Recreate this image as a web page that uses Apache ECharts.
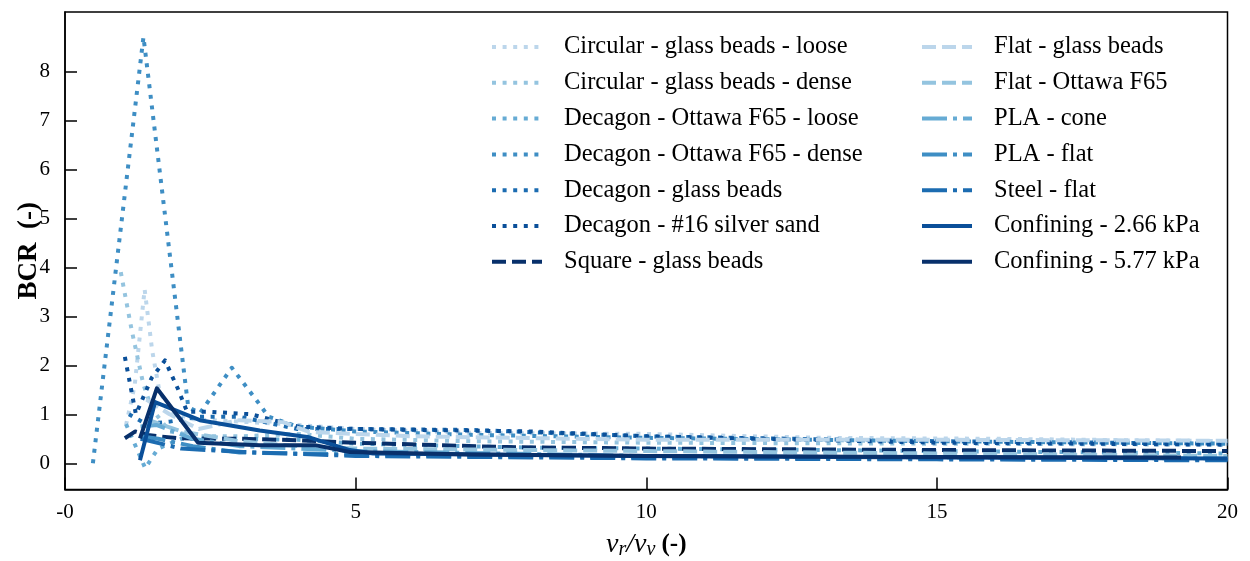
<!DOCTYPE html>
<html>
<head>
<meta charset="utf-8">
<script src="https://cdn.jsdelivr.net/npm/echarts@6/dist/echarts.min.js"></script>
<style>html,body{margin:0;padding:0;background:#fff}#c{width:1250px;height:561px}</style>
</head>
<body>
<div id="c"></div>
<script>
// ---- data (x = vr/vv, y = BCR) ----
const circularLoose = [[1.05,0.78],[1.2,1.6],[1.37,3.55],[1.5,2.3],[1.62,1.5],[1.8,1.05],[2.2,0.9],[3.0,0.85],[3.8,0.8],[5,0.7],[7,0.62],[10,0.6],[13,0.52],[16,0.5],[20,0.45]];
const circularDense = [[0.96,3.9],[1.15,2.7],[1.35,1.6],[1.5,1.1],[1.8,0.65],[2.3,0.55],[3,0.55],[4,0.6],[5,0.5],[7,0.45],[10,0.42],[15,0.4],[20,0.38]];
const decagonOttawaLoose = [[1.05,0.8],[1.38,-0.1],[1.6,0.3],[2.0,0.5],[3,0.5],[4,0.48],[5,0.4],[8,0.32],[10,0.3],[15,0.25],[20,0.2]];
const decagonOttawaDense = [[0.48,0.0],[1.35,8.7],[2.12,1.15],[2.32,1.02],[2.87,1.95],[3.35,1.2],[3.5,0.95],[4,0.75],[5,0.65],[7,0.58],[10,0.52],[15,0.45],[20,0.4]];
const decagonGlass = [[1.1,1.0],[1.4,0.8],[1.8,0.85],[2.3,0.95],[3,0.95],[4,0.7],[5,0.7],[7,0.68],[10,0.55],[15,0.45],[20,0.4]];
const decagonSilver = [[1.03,2.17],[1.22,1.0],[1.49,1.74],[1.72,2.1],[1.95,1.5],[2.1,1.05],[2.5,1.05],[3.2,1.0],[4,0.75],[5,0.7],[8,0.65],[10,0.55],[15,0.42],[20,0.38]];
const squareGlass = [[1.03,0.51],[1.21,0.65],[1.46,0.57],[1.95,0.51],[3,0.5],[4,0.47],[5,0.42],[7.6,0.33],[10,0.3],[15,0.27],[20,0.25]];
const flatGlass = [[1.4,1.3],[1.8,1.0],[2.3,0.7],[3.0,0.88],[3.75,0.84],[4.2,0.64],[6,0.55],[10,0.48],[15,0.48],[20,0.46]];
const flatOttawa = [[1.4,0.9],[2.0,0.65],[3,0.45],[4,0.35],[5,0.3],[10,0.25],[15,0.2],[20,0.15]];
const plaCone = [[1.3,0.75],[1.58,0.78],[2.2,0.5],[3,0.35],[5,0.25],[10,0.15],[15,0.12],[20,0.1]];
const plaFlat = [[1.3,0.55],[1.6,0.5],[2.2,0.35],[3,0.22],[5,0.18],[10,0.12],[15,0.1],[20,0.08]];
const steelFlat = [[1.3,0.5],[2,0.3],[3.07,0.23],[5,0.15],[10,0.1],[15,0.08],[20,0.06]];
const confining266 = [[1.29,0.06],[1.55,1.25],[2.32,0.88],[3.35,0.67],[4.2,0.53],[4.9,0.27],[5.3,0.2],[10,0.15],[15,0.12],[20,0.1]];
const confining577 = [[1.29,0.51],[1.58,1.53],[2.29,0.42],[3.35,0.37],[4.3,0.37],[4.9,0.23],[7,0.18],[10,0.15],[15,0.13],[19.2,0.12]];

const seriesNames = ['Circular - glass beads - loose','Circular - glass beads - dense','Decagon - Ottawa F65 - loose','Decagon - Ottawa F65 - dense','Decagon - glass beads','Decagon - #16 silver sand','Square - glass beads','Flat - glass beads','Flat - Ottawa F65','PLA - cone','PLA - flat','Steel - flat','Confining - 2.66 kPa','Confining - 5.77 kPa'];
const seriesData = [circularLoose,circularDense,decagonOttawaLoose,decagonOttawaDense,decagonGlass,decagonSilver,squareGlass,flatGlass,flatOttawa,plaCone,plaFlat,steelFlat,confining266,confining577];
const seriesKinds = ['dot','dot','dot','dot','dot','dot','dash','dash','dash','dashdot','dashdot','dashdot','solid','solid'];
const xTicks = [0,5,10,15,20];
const yTicks = [0,1,2,3,4,5,6,7,8];

const blues = ['#bcd6eb','#94c4df','#66abd4','#3e8ec4','#1c6cb1','#0a4f99','#08306b'];
const colors = [blues[0],blues[1],blues[2],blues[3],blues[4],blues[5],blues[6],blues[0],blues[1],blues[2],blues[3],blues[4],blues[5],blues[6]];
const dashes = {dot:[4,6.6], dash:[14,6], dashdot:[25,6,4,6], solid:'solid'};
const widths = {dot:4, dash:4, dashdot:4, solid:4};

const FONT = 'Liberation Serif';
const chart = echarts.init(document.getElementById('c'), null, {renderer:'canvas'});

const series = seriesNames.map((n,i)=>({
  name:n, type:'line', data:seriesData[i], symbol:'none', showSymbol:false,
  lineStyle:{color:colors[i], width:widths[seriesKinds[i]], type:dashes[seriesKinds[i]], cap:'butt', join:'round'},
  itemStyle:{color:colors[i]},
  emphasis:{disabled:true}, animation:false, z:2+i
}));

function legendCfg(names, left){
  return {
    orient:'vertical', left:left, top:29.5, itemWidth:50, itemHeight:14, itemGap:10.8,
    lineStyle:{width:4},
    itemStyle:{opacity:0},
    textStyle:{fontFamily:FONT, fontSize:24.5, color:'#000', lineHeight:24, padding:[0,0,0,17]},
    data:names.map(n=>({name:n})), selectedMode:false
  };
}

chart.setOption({
  animation:false,
  grid:{left:65, right:22.5, top:12, bottom:71.5, show:true, borderColor:'#000', borderWidth:1.5, backgroundColor:'transparent', outerBoundsMode:'none', containLabel:false},
  legend:[legendCfg(seriesNames.slice(0,7), 485), legendCfg(seriesNames.slice(7), 915)],
  xAxis:{
    type:'value', min:0, max:20, interval:5,
    axisLine:{show:true, onZero:false, lineStyle:{color:'#000', width:1.5}},
    axisTick:{show:true, inside:true, length:12, lineStyle:{color:'#000', width:1.5}},
    axisLabel:{fontFamily:FONT, fontSize:21, color:'#000', margin:12, formatter:v=> v===0?'-0':String(v)},
    splitLine:{show:false},
    name:'{i|v}{s|r}{i|/v}{s|v}{b| (-)}', nameLocation:'middle', nameGap:40, nameMoveOverlap:false,
    nameTextStyle:{rich:{
      i:{fontFamily:FONT, fontStyle:'italic', fontSize:28, color:'#000'},
      s:{fontFamily:FONT, fontStyle:'italic', fontSize:20, color:'#000', verticalAlign:'bottom', padding:[10,0,0,0]},
      b:{fontFamily:FONT, fontWeight:'bold', fontSize:25, color:'#000'}
    }}
  },
  yAxis:{
    type:'value', min:-0.535, max:9.21,
    axisLine:{show:true, onZero:false, lineStyle:{color:'#000', width:1.5}},
    axisTick:{show:true, inside:true, length:12, customValues:yTicks, lineStyle:{color:'#000', width:1.5}},
    axisLabel:{fontFamily:FONT, fontSize:21, color:'#000', margin:15, customValues:yTicks},
    splitLine:{show:false},
    name:'BCR  (-)', nameLocation:'middle', nameGap:22, nameMoveOverlap:false,
    nameTextStyle:{fontFamily:FONT, fontWeight:'bold', fontSize:27, color:'#000'}
  },
  series:series
});
</script>
</body>
</html>
